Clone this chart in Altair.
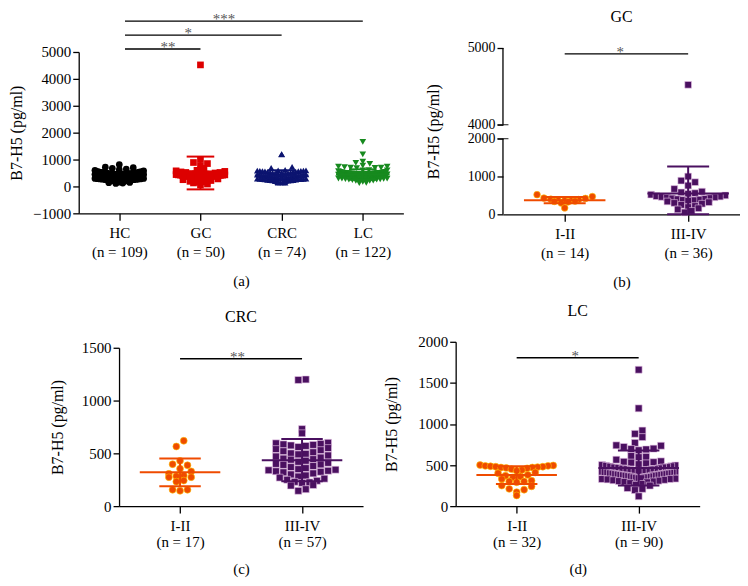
import json
import altair as alt
import pandas as pd

# ---------------- data (pg/ml) ----------------
HC = [812, 716, 697, 648, 622, 598, 583, 561, 552, 538,
      531, 522, 508, 503, 497, 492, 486, 481, 476, 472,
      468, 463, 459, 455, 452, 449, 446, 442, 438, 436,
      432, 428, 425, 421, 418, 415, 412, 409, 406, 402,
      400, 398, 396, 393, 390, 388, 386, 383, 381, 379,
      377, 374, 372, 370, 367, 365, 362, 360, 358, 355,
      352, 350, 348, 345, 343, 340, 338, 335, 333, 330,
      327, 324, 321, 318, 315, 312, 308, 305, 302, 298,
      294, 289, 284, 279, 273, 268, 262, 256, 250, 244,
      238, 231, 224, 216, 208, 199, 190, 181, 171, 160,
      148, 136, 124, 110, 676, 462, 391, 353, 311]

GC_I_II = [520, 470, 430, 420, 400, 390, 380, 370, 360, 350, 340, 330, 300, 170]
GC_III_IV = [4520, 1000, 890, 850, 760, 670, 600, 580, 560, 540, 520, 500,
             480, 470, 460, 450, 440, 430, 420, 410, 400, 390, 380, 370,
             360, 340, 320, 300, 280, 250, 220, 190, 160, 130, 90, 50]

CRC_I_II = [619, 565, 429, 387, 397, 329, 355, 306, 290, 242, 274, 274, 284,
            232, 155, 145, 155]
CRC_III_IV = [1200, 1195, 730, 690, 600, 595, 590, 585, 580, 575,
              570, 560, 550, 540, 530, 520, 510, 500, 495, 490,
              480, 470, 460, 450, 445, 440, 430, 420, 410, 400,
              395, 390, 380, 370, 360, 350, 345, 340, 335, 330,
              325, 320, 310, 300, 290, 280, 270, 260, 250, 240,
              230, 225, 220, 200, 195, 160, 145]

LC_I_II = [500, 495, 490, 490, 485, 480, 480, 475, 470, 470,
           465, 460, 450, 440, 430, 410, 400, 380, 370, 360,
           350, 330, 310, 300, 300, 290, 250, 240, 210, 200,
           170, 130]
LC_III_IV = [1660, 1190, 920, 880, 840, 770, 740, 735, 720, 700,
             695, 690, 680, 610, 600, 595, 565, 545, 540, 535,
             530, 520, 510, 500, 495, 490, 485, 480, 475, 470,
             470, 465, 460, 455, 450, 450, 445, 440, 435, 430,
             430, 425, 420, 420, 415, 410, 410, 405, 400, 400,
             395, 395, 390, 390, 385, 385, 380, 380, 375, 375,
             370, 370, 365, 360, 360, 355, 350, 350, 345, 340,
             340, 335, 330, 330, 325, 320, 315, 310, 305, 300,
             295, 290, 280, 270, 260, 250, 220, 210, 195, 120]

GROUPS = ["HC", "GC", "CRC", "LC"]
GROUP_N = ["(n = 109)", "(n = 50)", "(n = 74)", "(n = 122)"]
STAGES = ["I-II", "III-IV"]
GC_N = ["(n = 14)", "(n = 36)"]
CRC_N = ["(n = 17)", "(n = 57)"]
LC_N = ["(n = 32)", "(n = 90)"]

# significance annotations: (from, to, label)
SIG_A = [(0, 1, "**"), (0, 2, "*"), (0, 3, "***")]
SIG_STAGE = [(0, 1, "*"), (0, 1, "**"), (0, 1, "*")]  # GC, CRC, LC

YTITLE = "B7-H5 (pg/ml)"
FONT = "Liberation Serif"


def label_expr(names, ns):
    return json.dumps([[a, b] for a, b in zip(names, ns)]) + "[datum.value]"


def build_panel(key, series, names, ns, colors, shapes, size, xdom, width, height,
                yscale, yvals, B, D, W, sig, xtitle, title=None,
                ydomain=True, lineh=19, xlabpad=5, xtitlepad=12, ytitlepad=6,
                ylabsize=15, strokes=None, extra=None):
    rows = []
    for gi, (name, vals) in enumerate(zip(names, series)):
        for v in vals:
            rows.append({"gi": gi, key: name, "v": v})
    df = pd.DataFrame(rows)

    xscale = alt.Scale(domain=xdom, nice=False, zero=False)
    xaxis = alt.Axis(values=list(range(len(names))), labelExpr=label_expr(names, ns),
                     tickSize=7, labelPadding=xlabpad, labelLineHeight=lineh,
                     titlePadding=xtitlepad, labelFontSize=15, titleFontSize=15,
                     labelFont=FONT, titleFont=FONT, titleFontWeight="normal")
    yaxis = alt.Axis(values=yvals, format="d", tickSize=6, labelOverlap=False,
                     labelPadding=2, titlePadding=ytitlepad, domain=ydomain,
                     labelFontSize=ylabsize, titleFontSize=16, labelFont=FONT,
                     titleFont=FONT, titleFontWeight="normal")

    def X(f):
        return alt.X(f, scale=xscale, axis=xaxis, title=xtitle)

    def Y(f):
        return alt.Y(f, scale=yscale, axis=yaxis, title=YTITLE)

    color = alt.Color(f"{key}:N", scale=alt.Scale(domain=names, range=colors), legend=None)
    shape = alt.Shape(f"{key}:N", scale=alt.Scale(domain=names, range=shapes), legend=None)

    base = alt.Chart(df)
    pts = (
        base.transform_calculate(row=f"floor(datum.v / {B})")
        .transform_joinaggregate(c="count()", groupby=["gi", "row"])
        .transform_window(k="row_number()", groupby=["gi", "row"],
                          sort=[alt.SortField("v", order="ascending")])
        .transform_calculate(
            j="(datum.k % 2 == 1 ? -(datum.k - 1) / 2 : datum.k / 2) - (datum.c % 2 == 0 ? 0.5 : 0)",
            half="(datum.c - 1) / 2",
        )
        .transform_calculate(xo=f"datum.gi + datum.j * min({D}, {W} / max(datum.half, 0.5))")
    )
    enc = dict(x=X("xo:Q"), y=Y("v:Q"), color=color, shape=shape)
    if strokes:
        enc["stroke"] = alt.Stroke(f"{key}:N", scale=alt.Scale(domain=names, range=strokes), legend=None)
        pts = pts.mark_point(filled=True, opacity=1, size=size, strokeWidth=0.6).encode(**enc)
    else:
        pts = pts.mark_point(filled=True, opacity=1, size=size, strokeWidth=0).encode(**enc)

    stats = base.transform_aggregate(m="mean(v)", s="stdev(v)", groupby=["gi", key]).transform_calculate(
        lo="datum.m - datum.s", hi="datum.m + datum.s",
        xl="datum.gi - 0.33", xr="datum.gi + 0.33",
        cl="datum.gi - 0.17", cr="datum.gi + 0.17")
    mean_r = stats.mark_rule(strokeWidth=2).encode(x=X("xl:Q"), x2="xr:Q", y=Y("m:Q"), color=color)
    sd_r = stats.mark_rule(strokeWidth=2).encode(x=X("gi:Q"), y=Y("lo:Q"), y2="hi:Q", color=color)
    cap_h = stats.mark_rule(strokeWidth=2).encode(x=X("cl:Q"), x2="cr:Q", y=Y("hi:Q"), color=color)
    cap_l = stats.mark_rule(strokeWidth=2).encode(x=X("cl:Q"), x2="cr:Q", y=Y("lo:Q"), color=color)

    sdf = pd.DataFrame(sig)
    sig_r = alt.Chart(sdf).mark_rule(color="black", strokeWidth=1.3, clip=False).encode(
        x=X("x1:Q"), x2="x2:Q", y=Y("y:Q"))
    sig_t = alt.Chart(sdf).mark_text(font=FONT, fontSize=15, color="#555", baseline="alphabetic",
                                     dy=3, clip=False).encode(x=X("tx:Q"), y=Y("y:Q"), text="label:N")

    layers = [pts, mean_r, sd_r, cap_h, cap_l, sig_r, sig_t]
    if extra is not None:
        layers += extra(X, Y)
    props = dict(width=width, height=height)
    if title:
        props["title"] = alt.TitleParams(title, font=FONT, fontSize=16, fontWeight="normal",
                                         color="black", offset=16)
    return alt.layer(*layers).properties(**props)


# ---------- panel (a) ----------
sig_a = [{"x1": 0.07, "x2": t, "y": y, "tx": tx, "label": lab}
         for (f, t, lab), y, tx in zip(SIG_A, [5111, 5630, 6150], [0.6, 0.85, 1.29])]
pa = build_panel(
    "grpA", [HC, GC_I_II + GC_III_IV, CRC_I_II + CRC_III_IV, LC_I_II + LC_III_IV],
    GROUPS, GROUP_N, ["#000000", "#dd0000", "#0c1470", "#178a1f"],
    ["circle", "square", "triangle-up", "triangle-down"], 45,
    [-0.5, 3.5], 326, 166,
    alt.Scale(domain=[-1000, 5000], range=[166, 4], nice=False, zero=False),
    [-1000, 0, 1000, 2000, 3000, 4000, 5000], 150, 0.086, 0.30, sig_a, "(a)",
    xtitlepad=14, ytitlepad=8)


# ---------- panel (b) with broken axis ----------
def b_extra(X, Y):
    seg = pd.DataFrame({"x0": [-0.5, -0.5], "ya": [0, 4000], "yb": [2000, 5000]})
    brk = pd.DataFrame({"x0": [-0.5, -0.5], "yk": [2000, 4000]})
    return [
        alt.Chart(seg).mark_rule(color="black", strokeWidth=1.3).encode(x=X("x0:Q"), y=Y("ya:Q"), y2="yb:Q"),
        alt.Chart(brk).mark_tick(orient="horizontal", color="black", size=11, thickness=1.3).encode(
            x=X("x0:Q"), y=Y("yk:Q")),
    ]


sig_b = [{"x1": 0, "x2": 1, "y": 4923, "tx": 0.45, "label": SIG_STAGE[0][2]}]
pb = build_panel(
    "stB", [GC_I_II, GC_III_IV], STAGES, GC_N, ["#ef4b00", "#4a1060"], ["circle", "square"], 45,
    [-0.5, 1.42], 238, 167,
    alt.Scale(domain=[0, 2000, 4000, 5000], range=[167, 91, 77, 0], clamp=True, nice=False, zero=False),
    [0, 1000, 2000, 4000, 5000], 180, 0.056, 0.30, sig_b, "(b)", title="GC",
    ydomain=False, xtitlepad=14, ytitlepad=26, ylabsize=14, strokes=["#ffc400", "#e6c3e6"],
    extra=b_extra)

# ---------- panel (c) ----------
sig_c = [{"x1": 0, "x2": 1, "y": 1396, "tx": 0.47, "label": SIG_STAGE[1][2]}]
pc = build_panel(
    "stC", [CRC_I_II, CRC_III_IV], STAGES, CRC_N, ["#ef4b00", "#4a1060"], ["circle", "square"], 48,
    [-0.5, 1.5], 245, 165,
    alt.Scale(domain=[0, 1500], range=[165, 6], nice=False, zero=False),
    [0, 500, 1000, 1500], 70, 0.061, 0.30, sig_c, "(c)", title="CRC", lineh=17, xtitlepad=12,
    ytitlepad=16, strokes=["#ffc400", "#e6c3e6"])

# ---------- panel (d) ----------
sig_d = [{"x1": 0, "x2": 1, "y": 1806, "tx": 0.48, "label": SIG_STAGE[2][2]}]
pd_ = build_panel(
    "stD", [LC_I_II, LC_III_IV], STAGES, LC_N, ["#ef4b00", "#4a1060"], ["circle", "square"], 48,
    [-0.5, 1.5], 245, 165,
    alt.Scale(domain=[0, 2000], nice=False, zero=False),
    [0, 500, 1000, 1500, 2000], 85, 0.061, 0.30, sig_d, "(d)", title="LC", lineh=17, xtitlepad=12,
    ytitlepad=18, strokes=["#ffc400", "#e6c3e6"])

top = alt.hconcat(pa, pb, spacing=100, bounds="flush").resolve_scale(
    color="independent", shape="independent", stroke="independent")
bottom = alt.hconcat(pc, pd_, spacing=93, bounds="flush").resolve_scale(
    color="independent", shape="independent", stroke="independent")

chart = (
    alt.vconcat(top, bottom, spacing=14, center=True)
    .resolve_scale(color="independent", shape="independent", stroke="independent")
    .properties(padding={"left": 0, "top": 0, "right": 0, "bottom": 0})
    .configure(font=FONT)
    .configure_axis(labelFont=FONT, titleFont=FONT, labelColor="black", titleColor="black",
                    domainColor="black", tickColor="black", domainWidth=1.3, tickWidth=1.3,
                    grid=False, titleFontWeight="normal")
    .configure_title(font=FONT, fontWeight="normal", color="black")
    .configure_text(font=FONT)
    .configure_view(stroke=None)
)

chart.save("out.html", embed_options={"renderer": "svg", "actions": False})
